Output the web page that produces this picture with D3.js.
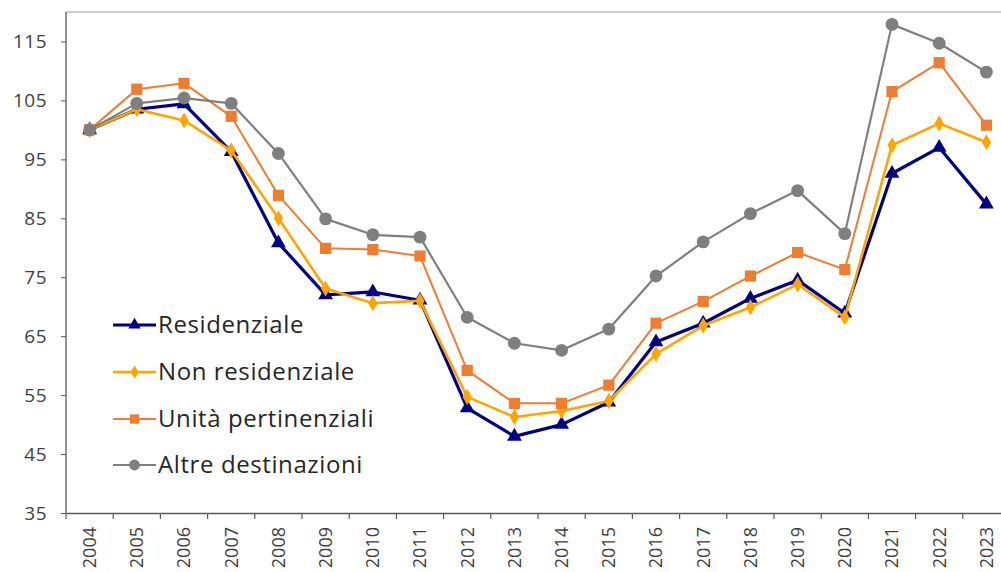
<!DOCTYPE html>
<html><head><meta charset="utf-8">
<script src="https://cdn.jsdelivr.net/npm/d3@7"></script>
<style>body{margin:0;background:#fff}svg{display:block}</style>
</head><body>
<svg id="c" width="1001" height="572"></svg>
<script>
const years = ["2004","2005","2006","2007","2008","2009","2010","2011","2012","2013","2014","2015","2016","2017","2018","2019","2020","2021","2022","2023"];
const residenziale = [100,103.5,104.4,96.3,80.8,72,72.5,71.1,52.8,48,50,53.8,64,67.2,71.4,74.5,68.9,92.6,97,87.4];
const nonResidenziale = [100,103.5,101.6,96.5,85,73.1,70.6,71,54.7,51.3,52.3,54,62,66.8,69.9,73.8,68.2,97.4,101.1,97.9];
const unitaPertinenziali = [100,106.9,107.9,102.3,88.9,79.9,79.7,78.6,59.2,53.6,53.6,56.7,67.2,70.9,75.2,79.2,76.3,106.5,111.4,100.8];
const altreDestinazioni = [100,104.5,105.4,104.5,96,84.9,82.2,81.8,68.2,63.8,62.6,66.2,75.2,81,85.8,89.7,82.4,117.9,114.7,109.8];
const yTicks = [35,45,55,65,75,85,95,105,115];
const seriesNames = ["Residenziale","Non residenziale","Unità pertinenziali","Altre destinazioni"];

const series = [
  {name:seriesNames[0], values:residenziale, color:"#000080", width:3.2, symbol:d3.symbolTriangle, size:95},
  {name:seriesNames[1], values:nonResidenziale, color:"#FFA500", width:2.6, symbol:d3.symbolDiamond, size:75},
  {name:seriesNames[2], values:unitaPertinenziali, color:"#ED7D31", width:2, symbol:d3.symbolSquare, size:125},
  {name:seriesNames[3], values:altreDestinazioni, color:"#7F7F7F", width:2.2, symbol:d3.symbolCircle, size:130}
];

const svg = d3.select("#c");
const mLeft = 66, mRight = 1010, mTop = 12, mBottom = 513;
const x = d3.scaleBand().domain(years).range([mLeft, mRight]);
const y = d3.scaleLinear().domain([35, 120]).range([mBottom, mTop]);
const font = "'Open Sans', sans-serif";

// top frame line
svg.append("line").attr("x1", mLeft).attr("x2", 1001).attr("y1", mTop).attr("y2", mTop)
  .attr("stroke", "#bfbfbf").attr("stroke-width", 1.5);

// y axis
const yAxis = svg.append("g").attr("transform", `translate(${mLeft},0)`)
  .call(d3.axisLeft(y).tickValues(yTicks).tickSize(5).tickPadding(14).tickFormat(d3.format("d")));
yAxis.select(".domain").attr("stroke", "#595959").attr("stroke-width", 1.3).attr("d", `M0,${mTop}V${mBottom}`);
yAxis.selectAll(".tick line").attr("stroke", "#595959");
yAxis.selectAll("text").attr("font-family", font).attr("font-size", 19).attr("fill", "#404040")
  .attr("letter-spacing", "0.5px");

// x axis
const xAxis = svg.append("g").attr("transform", `translate(0,${mBottom})`)
  .call(d3.axisBottom(x).tickSize(0).tickPadding(0));
xAxis.select(".domain").attr("stroke", "#595959").attr("stroke-width", 1.3);
xAxis.selectAll(".tick text")
  .attr("font-family", font).attr("font-size", 18).attr("fill", "#404040")
  .attr("transform", "rotate(-90)").attr("text-anchor", "end")
  .attr("x", -14).attr("y", 0).attr("dy", "0.35em");
// boundary ticks
svg.append("g").selectAll("line").data(years).join("line")
  .attr("x1", d => x(d)).attr("x2", d => x(d))
  .attr("y1", mBottom).attr("y2", mBottom + 6)
  .attr("stroke", "#595959").attr("stroke-width", 1.2);

const cx = d => x(d) + x.bandwidth() / 2;
const line = d3.line().x((v, i) => cx(years[i])).y(v => y(v));

series.forEach(s => {
  const g = svg.append("g");
  g.append("path").attr("d", line(s.values)).attr("fill", "none")
    .attr("stroke", s.color).attr("stroke-width", s.width).attr("stroke-linejoin", "round");
  g.selectAll("path.m").data(s.values).join("path").attr("class", "m")
    .attr("d", d3.symbol().type(s.symbol).size(s.size))
    .attr("transform", (v, i) => `translate(${cx(years[i])},${y(v)})`)
    .attr("fill", s.color);
});

// legend
const legY = [325, 372, 419, 465];
const lg = svg.append("g");
series.forEach((s, i) => {
  const gy = legY[i];
  lg.append("line").attr("x1", 113).attr("x2", 156).attr("y1", gy).attr("y2", gy)
    .attr("stroke", s.color).attr("stroke-width", s.width);
  lg.append("path").attr("d", d3.symbol().type(s.symbol).size(s.size * 0.7))
    .attr("transform", `translate(134.5,${gy})`).attr("fill", s.color);
  lg.append("text").attr("x", 158).attr("y", gy).attr("dy", "0.35em")
    .attr("font-family", font).attr("font-size", 24).attr("letter-spacing", "0.6px")
    .attr("fill", "#262626").text(s.name);
});
</script>
</body></html>
